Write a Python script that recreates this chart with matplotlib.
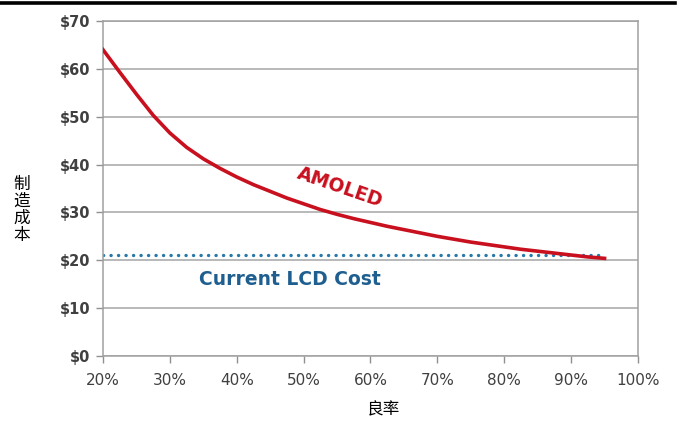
import matplotlib
matplotlib.use("Agg")
import matplotlib.pyplot as plt
from matplotlib.lines import Line2D

# yield (%) vs. manufacturing cost ($) for AMOLED panels
yield_pct = [20, 22.5, 25, 27.5, 30, 32.5, 35, 37.5, 40, 42.5, 45, 47.5, 50, 52.5,
             55, 57.5, 60, 62.5, 65, 67.5, 70, 72.5, 75, 77.5, 80, 82.5, 85, 87.5,
             90, 92.5, 95]
amoled_cost = [64.0, 59.3, 54.7, 50.3, 46.6, 43.6, 41.2, 39.2, 37.4, 35.8, 34.4,
               33.0, 31.8, 30.6, 29.6, 28.7, 27.9, 27.1, 26.4, 25.7, 25.0, 24.4,
               23.8, 23.3, 22.8, 22.3, 21.9, 21.5, 21.1, 20.7, 20.4]
lcd_yield = [20, 95]
lcd_cost = [21.0, 21.0]

x_ticks = [20, 30, 40, 50, 60, 70, 80, 90, 100]
y_ticks = [0, 10, 20, 30, 40, 50, 60, 70]

CJK = ["Noto Sans CJK SC", "DejaVu Sans"]

fig = plt.figure(figsize=(6.79, 4.23), dpi=100)
fig.patch.set_facecolor("white")
ax = fig.add_axes([0.1517, 0.1584, 0.9396 - 0.1517, 0.9504 - 0.1584])

ax.plot(yield_pct, amoled_cost, color="#c8101e", lw=2.6, solid_joinstyle="round", zorder=3)
ax.plot(lcd_yield, lcd_cost, color="#2878a8", lw=2.4,
        linestyle=(0, (0.05, 2.2)), dash_capstyle="round", zorder=2)

ax.set_xlim(20, 100)
ax.set_ylim(0, 70)
ax.set_xticks(x_ticks)
ax.set_xticklabels([f"{v}%" for v in x_ticks])
ax.set_yticks(y_ticks)
ax.set_yticklabels([f"${v}" for v in y_ticks])
ax.tick_params(axis="both", direction="out", length=5, width=1, color="#909090",
               labelcolor="#404040")
ax.tick_params(axis="x", labelsize=11, pad=7)
ax.tick_params(axis="y", labelsize=10.5, pad=4)
for lbl in ax.get_yticklabels():
    lbl.set_fontweight("bold")

ax.grid(axis="y", color="#a6a6a6", lw=1.1)
ax.set_axisbelow(True)
for sp in ax.spines.values():
    sp.set_color("#a0a0a0")
    sp.set_linewidth(1.1)

ax.text(55.4, 35.3, "AMOLED", color="#c8101e", fontsize=13.5, fontweight="bold",
        rotation=-19, ha="center", va="center")
ax.text(48, 15.9, "Current LCD Cost", color="#1f5f90", fontsize=13.5,
        fontweight="bold", ha="center", va="center")

fig.text(22 / 679, 1 - 210 / 423, "制\n造\n成\n本", family=CJK, fontsize=12,
         ha="center", va="center", linespacing=1.0)
fig.text(383 / 679, 1 - 410 / 423, "良率", family=CJK, fontsize=12,
         ha="center", va="center")

# rule across the top of the page
fig.add_artist(Line2D([0, 675 / 679], [1 - 3.5 / 423] * 2, color="black", lw=2.6,
                      transform=fig.transFigure))

fig.savefig("out.png", dpi=100)
